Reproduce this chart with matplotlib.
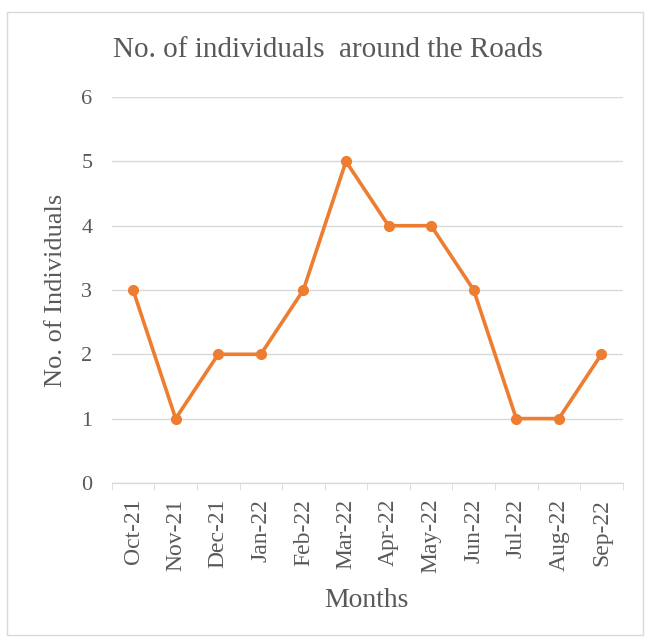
import matplotlib.pyplot as plt
from matplotlib.patches import Rectangle
import numpy as np

months = ['Oct-21', 'Nov-21', 'Dec-21', 'Jan-22', 'Feb-22', 'Mar-22',
          'Apr-22', 'May-22', 'Jun-22', 'Jul-22', 'Aug-22', 'Sep-22']
individuals = [3, 1, 2, 2, 3, 5, 4, 4, 3, 1, 1, 2]
y_ticks = [0, 1, 2, 3, 4, 5, 6]

plt.rcParams['font.family'] = ['Liberation Serif', 'DejaVu Serif']
text_color = '#595959'
grid_color = '#d9d9d9'

fig = plt.figure(figsize=(6.5, 6.43), dpi=100)
ax = fig.add_axes([0.172, 0.249, 0.786, 0.600])

x = np.arange(len(months))
ax.plot(x, individuals, color='#ed7d31', linewidth=2.6,
        marker='o', markersize=7, zorder=3)

ax.set_xlim(-0.5, len(months) - 0.5)
ax.set_ylim(0, 6)
ax.set_yticks(y_ticks)
ax.set_xticks(x)
ax.set_xticklabels(months, rotation=90)
ax.set_xticks(np.arange(-0.5, len(months)), minor=True)

ax.grid(axis='y', color=grid_color, linewidth=1)
ax.set_axisbelow(True)
for side in ['top', 'right', 'left']:
    ax.spines[side].set_visible(False)
ax.spines['bottom'].set_color(grid_color)
ax.spines['bottom'].set_linewidth(1)

ax.tick_params(axis='x', which='major', length=0, pad=11.5,
               labelsize=17, labelcolor=text_color)
ax.tick_params(axis='x', which='minor', length=5, color=grid_color)
ax.tick_params(axis='y', length=0, pad=14, labelsize=16, labelcolor=text_color)

# axis titles
fig.text(0.563, 1 - 607 / 643, 'Months', ha='center', va='baseline',
         fontsize=20, color=text_color)
fig.text(56 / 650, 1 - 290 / 643, 'No. of Individuals', ha='center', va='center',
         rotation=90, fontsize=19, color=text_color)

fig.text(0.505, 0.922, 'No. of individuals  around the Roads',
         ha='center', va='center', fontsize=21, color=text_color)

# light frame round the chart
fig.patches.append(Rectangle((0.011, 0.012), 0.978, 0.969, transform=fig.transFigure,
                             fill=False, edgecolor='#d9d9d9', linewidth=1))

fig.savefig('out.png', dpi=100)
